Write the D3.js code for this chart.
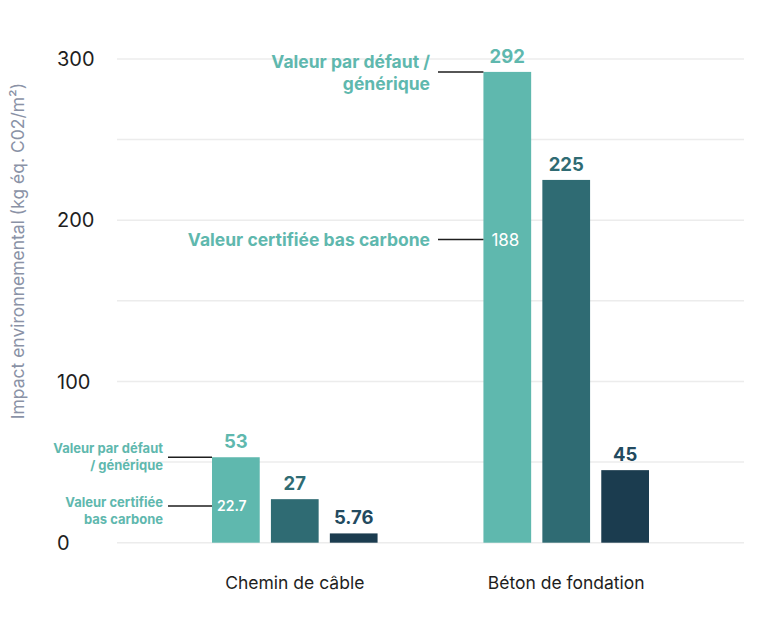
<!DOCTYPE html>
<html>
<head>
<meta charset="utf-8">
<script src="https://cdn.jsdelivr.net/npm/d3@7/dist/d3.min.js"></script>
<style>
  html, body { margin: 0; padding: 0; background: #fff; }
  svg { display: block; font-family: Inter, "Noto Sans", sans-serif; }
</style>
</head>
<body>
<svg id="chart" width="768" height="634"></svg>
<script>
const categories = ["Chemin de câble", "Béton de fondation"];
const seriesNames = ["Valeur par défaut / générique", "Valeur intermédiaire", "Valeur certifiée bas carbone"];
const cheminValues = [53, 27, 5.76];
const betonValues = [292, 225, 45];
const valueLabels = [["53", "27", "5.76"], ["292", "225", "45"]];
const certifiedValues = [22.7, 188];
const certifiedLabels = ["22.7", "188"];
const yTicks = [0, 100, 200, 300];
const gridTicks = [0, 50, 100, 150, 200, 250, 300];
const yTitle = "Impact environnemental (kg éq. C02/m²)";

const colors = ["#5fb8ae", "#2f6b73", "#1b3c4f"];
const labelColors = ["#5fb8ae", "#2f6b73", "#234a5f"];

const data = categories.map((c, i) => ({ category: c, values: [cheminValues, betonValues][i], labels: valueLabels[i] }));

const svg = d3.select("#chart");
const x0 = d3.scaleBand().domain(categories).range([117, 744]).paddingInner(0.39).paddingOuter(0.35);
const x1 = d3.scaleBand().domain(d3.range(3)).range([0, x0.bandwidth()]).paddingInner(0.19).paddingOuter(0);
const y = d3.scaleLinear().domain([0, 300]).range([542.7, 59]);

// gridlines
svg.append("g").selectAll("line").data(gridTicks).join("line")
  .attr("x1", 117).attr("x2", 744)
  .attr("y1", d => y(d)).attr("y2", d => y(d))
  .attr("stroke", "#ececec").attr("stroke-width", 1.5);

// y tick labels
svg.append("g").selectAll("text").data(yTicks).join("text")
  .attr("x", 57).attr("y", d => y(d)).attr("dy", "0.36em")
  .attr("font-size", 20).attr("fill", "#1e1e1e")
  .text(d => d);

// y title
svg.append("text")
  .attr("transform", `translate(24, ${251}) rotate(-90)`)
  .attr("text-anchor", "middle")
  .attr("font-size", 17.5).attr("fill", "#8a92a6")
  .text(yTitle);

// bars
const groups = svg.append("g").selectAll("g").data(data).join("g")
  .attr("transform", d => `translate(${x0(d.category)},0)`);

groups.selectAll("rect").data(d => d.values.map((v, i) => ({ v, i }))).join("rect")
  .attr("x", d => x1(d.i)).attr("width", x1.bandwidth())
  .attr("y", d => y(d.v)).attr("height", d => y(0) - y(d.v))
  .attr("fill", d => colors[d.i]);

groups.selectAll("text.val").data(d => d.values.map((v, i) => ({ v, i, label: d.labels[i] }))).join("text")
  .attr("class", "val")
  .attr("x", d => x1(d.i) + x1.bandwidth() / 2)
  .attr("y", d => y(d.v) - 9)
  .attr("text-anchor", "middle")
  .attr("font-size", 18.5).attr("font-weight", 700)
  .attr("fill", d => labelColors[d.i])
  .text(d => d.label);

// category labels
svg.append("g").selectAll("text").data(categories).join("text")
  .attr("x", d => x0(d) + x0.bandwidth() / 2)
  .attr("y", 589)
  .attr("text-anchor", "middle")
  .attr("font-size", 17.5).attr("fill", "#1e1e1e")
  .text(d => d);

// certified labels inside first bar
svg.append("g").selectAll("text").data(categories).join("text")
  .attr("x", (d, i) => x0(d) + x1(0) + (i === 0 ? 5 : 8))
  .attr("y", (d, i) => y(certifiedValues[i]))
  .attr("dy", "0.36em")
  .attr("font-size", (d, i) => i === 0 ? 14 : 17)
  .attr("font-weight", (d, i) => i === 0 ? 600 : 400)
  .attr("fill", "#fff")
  .text((d, i) => certifiedLabels[i]);

// annotations
const teal = "#5fb8ae";
function annotate(cat, value, lines, fontSize, lineH, textRight, lineStart, dyOffsets) {
  const xb = x0(cat) + x1(0);
  const yy = y(value);
  svg.append("line")
    .attr("x1", lineStart).attr("x2", xb)
    .attr("y1", yy).attr("y2", yy)
    .attr("stroke", "#1e1e1e").attr("stroke-width", 1.5);
  const t = svg.append("text")
    .attr("text-anchor", "end")
    .attr("font-size", fontSize).attr("font-weight", 700)
    .attr("fill", teal);
  lines.forEach((l, k) => {
    t.append("tspan").attr("x", textRight).attr("y", yy + dyOffsets + k * lineH).text(l);
  });
}
const b = categories[1], c = categories[0];
annotate(b, betonValues[0], ["Valeur par défaut /", "générique"], 17.5, 22, 430, 438, -4);
annotate(b, certifiedValues[1], ["Valeur certifiée bas carbone"], 17.5, 22, 430, 438, 6);
annotate(c, cheminValues[0], ["Valeur par défaut", "/ générique"], 13, 17, 163, 168, -4);
annotate(c, certifiedValues[0], ["Valeur certifiée", "bas carbone"], 13, 17, 163, 168, 1);
</script>
</body>
</html>
